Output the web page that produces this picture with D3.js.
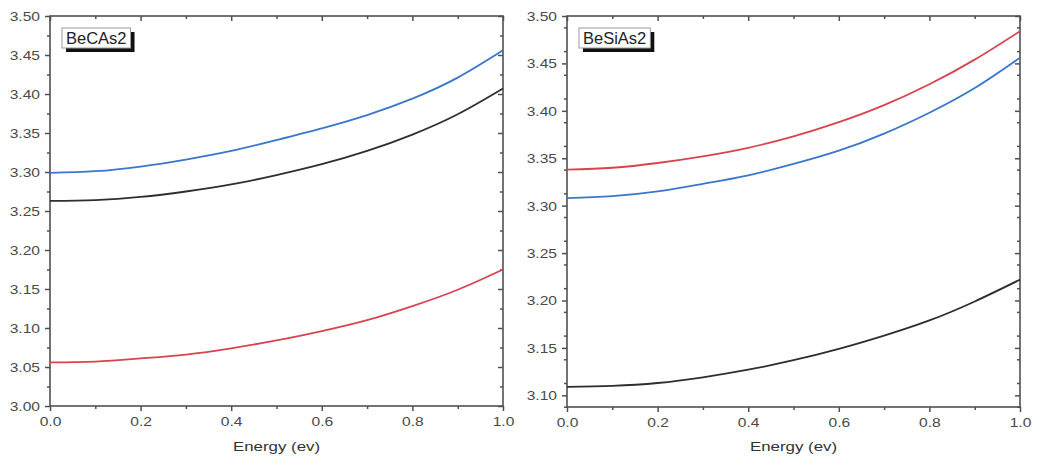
<!DOCTYPE html>
<html>
<head>
<meta charset="utf-8">
<script src="https://cdn.jsdelivr.net/npm/d3@7"></script>
<style>
  body { margin: 0; background: #fff; }
  svg { display: block; font-family: "Liberation Sans", Arial, sans-serif; }
</style>
</head>
<body>
<svg id="chart" width="1039" height="466"></svg>
<script>
// energy grid (ev)
const energy = [0, 0.1, 0.2, 0.3, 0.4, 0.5, 0.6, 0.7, 0.8, 0.9, 1.0];

// BeCAs2 panel
const becasBlue  = [3.299, 3.301, 3.307, 3.316, 3.327, 3.341, 3.356, 3.373, 3.394, 3.421, 3.456];
const becasBlack = [3.263, 3.264, 3.268, 3.275, 3.284, 3.296, 3.310, 3.327, 3.348, 3.374, 3.407];
const becasRed   = [3.056, 3.057, 3.061, 3.066, 3.074, 3.084, 3.096, 3.110, 3.128, 3.149, 3.175];

// BeSiAs2 panel
const besiRed   = [3.338, 3.340, 3.345, 3.352, 3.361, 3.373, 3.388, 3.406, 3.428, 3.454, 3.484];
const besiBlue  = [3.308, 3.310, 3.315, 3.323, 3.332, 3.344, 3.358, 3.376, 3.398, 3.424, 3.456];
const besiBlack = [3.109, 3.110, 3.113, 3.119, 3.127, 3.137, 3.149, 3.163, 3.179, 3.199, 3.222];

const xTicks = [0, 0.2, 0.4, 0.6, 0.8, 1.0];
const xMinor = [0.1, 0.3, 0.5, 0.7, 0.9];
const yTicksA = [3.00, 3.05, 3.10, 3.15, 3.20, 3.25, 3.30, 3.35, 3.40, 3.45, 3.50];
const yTicksB = [3.10, 3.15, 3.20, 3.25, 3.30, 3.35, 3.40, 3.45, 3.50];

const colors = { blue: "#3a76cc", red: "#d8434e", black: "#2e2e2e" };
const axisColor = "#505050";
const stretch = 1.25; // the original text looks horizontally stretched

const svg = d3.select("#chart");

function panel(opt) {
  const { left, right, top, bottom, yDomain, yTicks, name, series } = opt;
  const x = d3.scaleLinear().domain([0, 1]).range([left, right]);
  const y = d3.scaleLinear().domain(yDomain).range([bottom, top]);
  const g = svg.append("g");

  const yMinor = d3.range(yDomain[0], yDomain[1], 0.025)
    .map(v => +v.toFixed(3))
    .filter(v => Math.round(v * 1000) % 50 !== 0 && v >= yDomain[0]);

  function styleAxis(sel) {
    sel.select(".domain").remove();
    sel.selectAll(".tick line").attr("stroke", axisColor).attr("stroke-width", 1.5);
  }

  // minor ticks
  g.append("g").attr("transform", `translate(0,${bottom})`)
    .call(d3.axisBottom(x).tickValues(xMinor).tickSize(3).tickFormat(""))
    .call(styleAxis);
  g.append("g").attr("transform", `translate(0,${top})`)
    .call(d3.axisTop(x).tickValues(xMinor).tickSize(-3).tickFormat(""))
    .call(styleAxis);
  g.append("g").attr("transform", `translate(${left},0)`)
    .call(d3.axisLeft(y).tickValues(yMinor).tickSize(3).tickFormat(""))
    .call(styleAxis);
  g.append("g").attr("transform", `translate(${right},0)`)
    .call(d3.axisRight(y).tickValues(yMinor).tickSize(-3).tickFormat(""))
    .call(styleAxis);

  // major ticks
  const xb = g.append("g").attr("transform", `translate(0,${bottom})`)
    .call(d3.axisBottom(x).tickValues(xTicks).tickSize(5).tickPadding(6).tickFormat(d3.format(".1f")))
    .call(styleAxis);
  g.append("g").attr("transform", `translate(0,${top})`)
    .call(d3.axisTop(x).tickValues(xTicks).tickSize(-5).tickFormat(""))
    .call(styleAxis);
  const yl = g.append("g").attr("transform", `translate(${left},0)`)
    .call(d3.axisLeft(y).tickValues(yTicks).tickSize(5).tickFormat(d3.format(".2f")))
    .call(styleAxis);
  g.append("g").attr("transform", `translate(${right},0)`)
    .call(d3.axisRight(y).tickValues(yTicks).tickSize(-5).tickFormat(""))
    .call(styleAxis);

  xb.selectAll(".tick text")
    .attr("fill", "#4a4a4a").attr("font-size", 12.5)
    .attr("transform", `scale(${stretch},1)`);
  yl.selectAll(".tick text")
    .attr("fill", "#4a4a4a").attr("font-size", 12.5)
    .attr("x", -10 / stretch).attr("dy", "0.35em")
    .attr("transform", `scale(${stretch},1)`);

  // frame
  g.append("rect")
    .attr("x", left).attr("y", top)
    .attr("width", right - left).attr("height", bottom - top)
    .attr("fill", "none").attr("stroke", axisColor).attr("stroke-width", 1.6);

  // curves
  const line = d3.line()
    .x((d, i) => x(energy[i]))
    .y(d => y(d))
    .curve(d3.curveNatural);
  series.forEach(s => {
    g.append("path")
      .attr("d", line(s.values))
      .attr("fill", "none")
      .attr("stroke", s.color)
      .attr("stroke-width", 1.8);
  });

  // axis title
  const cx = (left + right) / 2;
  g.append("text")
    .attr("transform", `translate(${cx},451) scale(${stretch},1)`)
    .attr("text-anchor", "middle")
    .attr("font-size", 13.5)
    .attr("fill", "#333")
    .text("Energy (ev)");

  // name box with shadow
  const bx = left + 12, by = top + 12;
  const lbl = g.append("g");
  const t = lbl.append("text")
    .attr("font-size", 16.5)
    .attr("fill", "#222")
    .text(name);
  const w = t.node().getComputedTextLength() + 8;
  const h = 20;
  lbl.insert("rect", "text")
    .attr("x", bx + 4).attr("y", by + 4).attr("width", w).attr("height", h)
    .attr("fill", "#111");
  lbl.insert("rect", "text")
    .attr("x", bx).attr("y", by).attr("width", w).attr("height", h)
    .attr("fill", "#fff").attr("stroke", "#999").attr("stroke-width", 1);
  t.attr("transform", `translate(${bx + 4},${by + 16})`);
}

panel({
  left: 50, right: 503, top: 16, bottom: 406,
  yDomain: [3.00, 3.50], yTicks: yTicksA, name: "BeCAs2",
  series: [
    { values: becasBlue, color: colors.blue },
    { values: becasBlack, color: colors.black },
    { values: becasRed, color: colors.red }
  ]
});

panel({
  left: 567, right: 1020, top: 16, bottom: 407,
  yDomain: [3.0877, 3.50], yTicks: yTicksB, name: "BeSiAs2",
  series: [
    { values: besiRed, color: colors.red },
    { values: besiBlue, color: colors.blue },
    { values: besiBlack, color: colors.black }
  ]
});
</script>
</body>
</html>
